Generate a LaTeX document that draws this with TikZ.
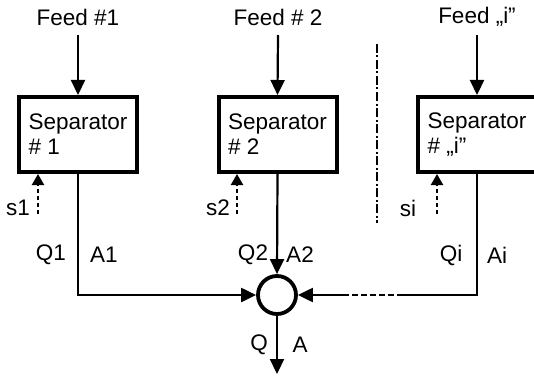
\documentclass[tikz,border=0pt]{standalone}
\usepackage{fontspec}
\setmainfont{Liberation Sans}
\usetikzlibrary{arrows.meta,calc}
\begin{document}
\begin{tikzpicture}[x=1pt,y=-1pt,
  every node/.style={font=\fontsize{22.5}{25}\selectfont},
  sepbox/.style={draw, line width=4pt, rectangle, minimum width=118pt, minimum height=75pt, align=left, inner sep=0pt},
  lbl/.style={inner sep=0pt},
  arr/.style={line width=2.2pt, -{Triangle[length=15pt,width=14pt]}},
  flow/.style={line width=2.2pt},
  sarr/.style={line width=2.2pt, dash pattern=on 4pt off 3pt, -{Triangle[length=11pt,width=12pt]}},
  divider/.style={line width=2.4pt, dash pattern=on 9pt off 2.5pt on 2pt off 2.5pt},
  mixer/.style={draw, circle, line width=3.8pt, minimum size=38pt, inner sep=0pt}
]
\useasboundingbox (0,0) rectangle (534,377);
\clip (0,0) rectangle (534,377);

% feeds
\node[lbl] (f1) at (78,17) {Feed \#1};
\node[lbl] (f2) at (278,17) {Feed \# 2};
\node[lbl] (f3) at (477,17) {Feed „i”};

% separators
\node[sepbox] (b1) at (78,134.5) {Separator\\\# 1};
\node[sepbox] (b2) at (277.5,134.5) {Separator\\\# 2};
\node[sepbox] (b3) at (477,134.5) {Separator\\\# „i”};

% mixer
\node[mixer] (c) at (277,295) {};

% coordinates
\coordinate (s1s) at (38,214);
\coordinate (s2s) at (237,214);
\coordinate (s3s) at (437,214);
\coordinate (p1) at (403,295);
\coordinate (p2) at (348,295);
\coordinate (out) at (277,374);
\coordinate (d1) at (377,44);
\coordinate (d2) at (377,223);

% feed arrows
\draw[arr] (f1.south |- 0,35) -- (b1.north);
\draw[arr] (f2.south |- 0,35) -- (b2.north);
\draw[arr] (f3.south |- 0,35) -- (b3.north);

% s arrows
\draw[sarr] (s1s) -- (s1s |- b1.south);
\draw[sarr] (s2s) -- (s2s |- b2.south);
\draw[sarr] (s3s) -- (s3s |- b3.south);

% flows
\draw[arr] (b1.south) |- (c.west);
\draw[arr] (b2.south) -- (c.north);
\draw[flow] (b3.south) |- (p1);
\draw[flow, dash pattern=on 6pt off 3pt] (p1) -- (p2);
\draw[arr] (p2) -- (c.east);
\draw[arr] (c.south) -- (out);

% divider
\draw[divider] (d1) -- (d2);

% labels
\node[lbl] (ls1) at (18,208) {s1};
\node[lbl] (ls2) at (218,208) {s2};
\node[lbl] (ls3) at (408,208) {si};
\node[lbl] (q1) at (51,255) {Q1};
\node[lbl] (a1) at (104,255) {A1};
\node[lbl] (q2) at (253,255) {Q2};
\node[lbl] (a2) at (300,255) {A2};
\node[lbl] (qi) at (451,255) {Qi};
\node[lbl] (ai) at (497,255) {Ai};
\node[lbl] (q) at (259,345) {Q};
\node[lbl] (a) at (300,345) {A};
\end{tikzpicture}
\end{document}
